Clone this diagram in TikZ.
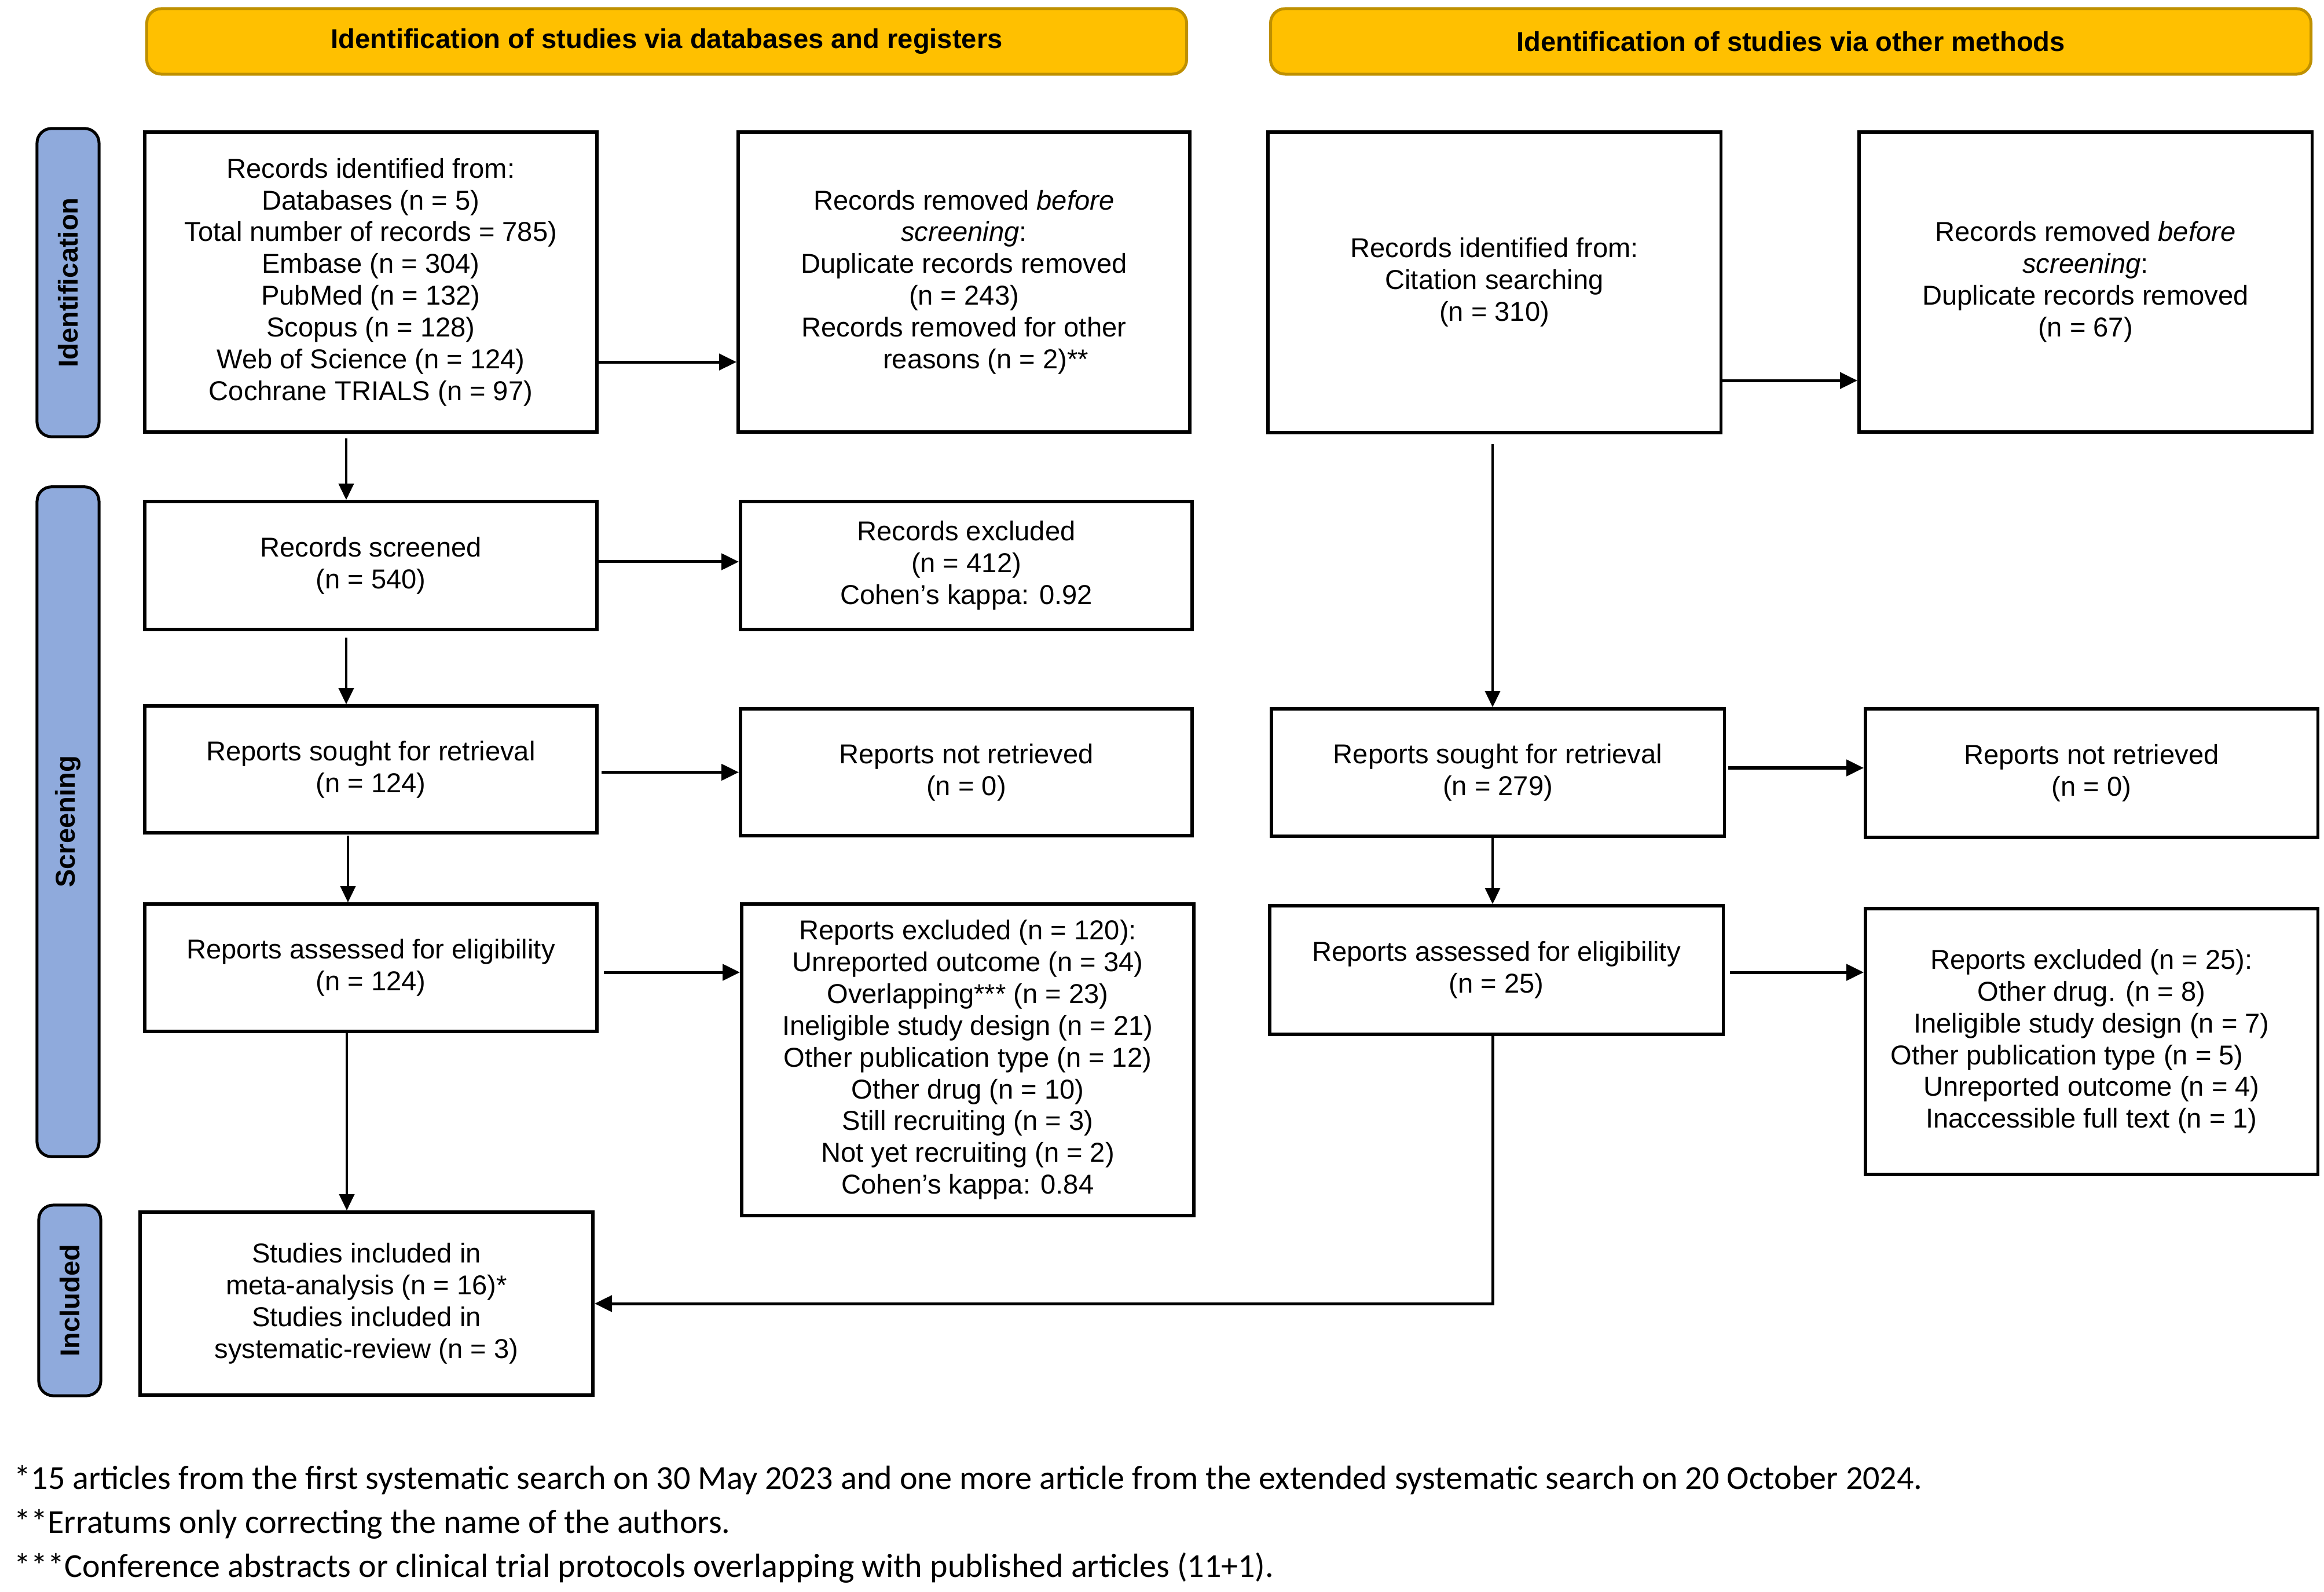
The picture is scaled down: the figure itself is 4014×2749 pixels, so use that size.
\documentclass[tikz,border=0pt]{standalone}
\usepackage{fontspec}
\setmainfont{Liberation Sans}
\newfontfamily\calib{Carlito}
\usetikzlibrary{arrows.meta}
\definecolor{gold}{HTML}{FFC000}
\definecolor{golddark}{HTML}{BF9000}
\definecolor{barblue}{HTML}{8FAADC}
\begin{document}
\begin{tikzpicture}[x=0.01cm,y=-0.01cm,
 box/.style={draw=black, line width=0.055cm, fill=white, align=center, inner sep=0pt, font=\fontsize{13.4}{15.6}\selectfont},
 banner/.style={draw=golddark, fill=gold, line width=0.05cm, rounded corners=0.25cm, inner sep=0pt, font=\bfseries\fontsize{13.4}{15.6}\selectfont},
 sidebar/.style={draw=black, fill=barblue, line width=0.05cm, rounded corners=0.25cm, inner sep=0pt, rotate=90, font=\bfseries\fontsize{13.4}{15.6}\selectfont},
 harrow/.style={-{Triangle[length=0.3cm,width=0.28cm]}, line width=0.05cm},
 varrow/.style={-{Triangle[length=0.28cm,width=0.26cm]}, line width=0.04cm},
 foot/.style={anchor=base west, inner sep=0pt, font=\calib\fontsize{16.5}{18}\selectfont}
]
\useasboundingbox (0,0) rectangle (4014,2749);

% banners
\node[banner, minimum width=17.95cm, minimum height=1.13cm] (bl) at (1151.5,71.5) {Identification of studies via databases and registers};
\node[banner, minimum width=17.96cm, minimum height=1.13cm] (br) at (3093,71.5) {Identification of studies via other methods};

% side bars
\node[sidebar, minimum width=5.32cm, minimum height=1.07cm] (idbar) at (117.5,488) {Identification};
\node[sidebar, minimum width=11.56cm, minimum height=1.07cm] (scbar) at (117.5,1419) {Screening};
\node[sidebar, minimum width=3.29cm, minimum height=1.07cm] (inbar) at (120.5,2245.5) {Included};

% boxes
\node[box, minimum width=7.81cm, minimum height=5.18cm] (A) at (640.5,487) {Records identified from:\\Databases (n = 5)\\Total number of records = 785)\\Embase (n = 304)\\PubMed (n = 132)\\Scopus (n = 128)\\Web of Science (n = 124)\\Cochrane TRIALS (n = 97)};
\node[box, minimum width=7.80cm, minimum height=5.18cm] (B) at (1665,487) {Records removed \textit{before}\\\textit{screening}:\\Duplicate records removed\\(n = 243)\\Records removed for other\\\hspace*{1.6em}reasons (n = 2)**};
\node[box, minimum width=7.82cm, minimum height=5.19cm] (C) at (2581,487.5) {Records identified from:\\Citation searching\\(n = 310)};
\node[box, minimum width=7.82cm, minimum height=5.18cm] (D) at (3602,487) {Records removed \textit{before}\\\textit{screening}:\\Duplicate records removed\\(n = 67)};

\node[box, minimum width=7.81cm, minimum height=2.21cm] (S) at (640.5,976.5) {Records screened\\(n = 540)};
\node[box, minimum width=7.80cm, minimum height=2.21cm] (E) at (1669,976.5) {Records excluded\\(n = 412)\\Cohen’s kappa: 0.92};

\node[box, minimum width=7.81cm, minimum height=2.19cm] (RL) at (640.5,1328.5) {Reports sought for retrieval\\(n = 124)};
\node[box, minimum width=7.80cm, minimum height=2.19cm] (NL) at (1669,1333.5) {Reports not retrieved\\(n = 0)};
\node[box, minimum width=7.82cm, minimum height=2.20cm] (RR) at (2587,1334) {Reports sought for retrieval\\(n = 279)};
\node[box, minimum width=7.81cm, minimum height=2.22cm] (NR) at (3612.5,1335) {Reports not retrieved\\(n = 0)};

\node[box, minimum width=7.81cm, minimum height=2.20cm] (AL) at (640.5,1671) {Reports assessed for eligibility\\(n = 124)};
\node[box, minimum width=7.81cm, minimum height=5.38cm] (XL) at (1671.5,1830) {Reports excluded (n = 120):\\Unreported outcome (n = 34)\\Overlapping*** (n = 23)\\Ineligible study design (n = 21)\\Other publication type (n = 12)\\Other drug (n = 10)\\Still recruiting (n = 3)\\Not yet recruiting (n = 2)\\Cohen’s kappa: 0.84};
\node[box, minimum width=7.83cm, minimum height=2.22cm] (AR) at (2584.5,1675) {Reports assessed for eligibility\\(n = 25)};
\node[box, minimum width=7.81cm, minimum height=4.59cm] (XR) at (3612.5,1798.5) {Reports excluded (n = 25):\\Other drug. (n = 8)\\Ineligible study design (n = 7)\\Other publication type (n = 5)\hspace*{1.8em}\null\\Unreported outcome (n = 4)\\Inaccessible full text (n = 1)};

\node[box, minimum width=7.82cm, minimum height=3.16cm] (I) at (633,2251) {Studies included in\\meta-analysis (n = 16)*\\Studies included in\\systematic-review (n = 3)};

% horizontal arrows
\draw[harrow] ([yshift=-1.38cm]A.east) -- ([yshift=-1.38cm]B.west);
\draw[harrow] ([yshift=-1.695cm]C.east) -- ([yshift=-1.695cm]C.east -| D.west);
\coordinate (h1) at ([yshift=0.065cm]S.east);
\draw[harrow] (h1) -- (h1 -| E.west);
\coordinate (h2) at ([xshift=0.05cm]RL.east |- NL.west);
\draw[harrow] (h2) -- (NL.west);
\coordinate (h3) at ([xshift=0.04cm,yshift=0.08cm]RR.east);
\draw[harrow] (h3) -- (h3 -| NR.west);
\coordinate (h4) at ([xshift=0.09cm,yshift=-0.08cm]AL.east);
\draw[harrow] (h4) -- (h4 -| XL.west);
\coordinate (h5) at ([xshift=0.09cm,yshift=-0.04cm]AR.east);
\draw[harrow] (h5) -- (h5 -| XR.west);

% vertical arrows
\coordinate (v1) at ([xshift=-0.425cm,yshift=-0.08cm]A.south);
\draw[varrow] (v1) -- (v1 |- S.north);
\coordinate (v2) at ([xshift=-0.425cm,yshift=-0.11cm]S.south);
\draw[varrow] (v2) -- (v2 |- RL.north);
\coordinate (v3) at ([xshift=-0.395cm,yshift=-0.02cm]RL.south);
\draw[varrow] (v3) -- (v3 |- AL.north);
\coordinate (v4) at ([xshift=-0.415cm]AL.south);
\draw[varrow] (v4) -- (v4 |- I.north);
\coordinate (v5) at ([xshift=-0.03cm,yshift=-0.17cm]C.south);
\draw[varrow] (v5) -- (v5 |- RR.north);
\coordinate (v6) at ([xshift=-0.09cm]RR.south);
\draw[varrow] (v6) -- (v6 |- AR.north);
\coordinate (v7) at ([xshift=-0.065cm]AR.south);
\draw[harrow] (v7) -- (v7 |- I.east) -- (I.east);

% footnotes
\node[foot] (f1) at (24,2571) {*15 articles from the first systematic search on 30 May 2023 and one more article from the extended systematic search on 20 October 2024.};
\node[foot] (f2) at (24,2647) {**Erratums only correcting the name of the authors.};
\node[foot] (f3) at (24,2723) {***Conference abstracts or clinical trial protocols overlapping with published articles (11+1).};
\end{tikzpicture}
\end{document}
